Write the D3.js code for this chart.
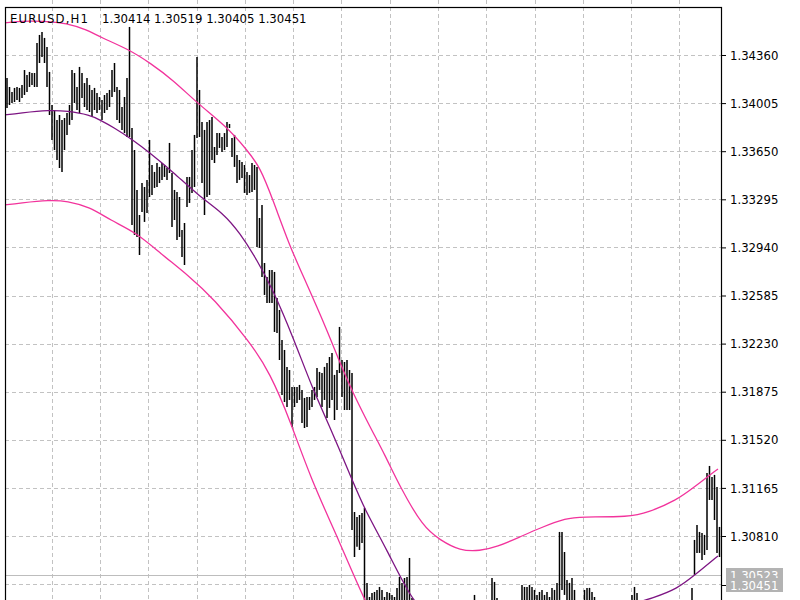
<!DOCTYPE html>
<html><head><meta charset="utf-8">
<script src="https://cdn.jsdelivr.net/npm/d3@7"></script>
<style>body{margin:0;background:#fff}svg{display:block}</style>
</head><body><svg id="c" width="800" height="600"></svg>
<script>
const symbolTitle = "EURUSD,H1";
const lastOHLC = ["1.30414","1.30519","1.30405","1.30451"];
const priceTicks = [1.34360,1.34005,1.33650,1.33295,1.32940,1.32585,1.32230,1.31875,1.31520,1.31165,1.30810];
const gridPrices = [1.34715,1.34360,1.34005,1.33650,1.33295,1.32940,1.32585,1.32230,1.31875,1.31520,1.31165,1.30810,1.30455];
const gridBars = [18,37.2,56.4,76,95.2,114.4,133.6,153.2,172.4,191.6,211.2,230.4,249.6,268.8];
const askPrice = 1.30523;
const bidPrice = 1.30451;

const highs = [
1.34190,1.34124,1.34087,1.34117,1.34124,1.34117,1.34139,1.34249,1.34213,1.34235,
1.34227,1.34227,1.34449,1.34508,1.34530,1.34486,1.34419,1.34235,1.33991,1.33954,
1.33880,1.33917,1.33880,1.33895,1.33932,1.33991,1.34249,1.34227,1.34124,1.34272,
1.34227,1.34153,1.34190,1.34139,1.34102,1.34117,1.34080,1.34050,1.34028,1.34065,
1.34080,1.34102,1.34249,1.34301,1.34124,1.34102,1.33976,1.34050,1.34190,1.34567,
1.33821,1.33659,1.33364,1.33179,1.33415,1.33386,1.33438,1.33733,1.33548,1.33497,
1.33563,1.33534,1.33563,1.33548,1.33526,1.33711,1.33489,1.33364,1.33349,1.33312,
1.33069,1.33120,1.33460,1.33460,1.33659,1.33770,1.34345,1.34102,1.33866,1.33807,
1.33866,1.33880,1.33903,1.33681,1.33784,1.33784,1.33755,1.33784,1.33866,1.33851,
1.33748,1.33770,1.33622,1.33585,1.33570,1.33548,1.33497,1.33474,1.33563,1.33548,
1.33534,1.33157,1.33253,1.32825,1.32722,1.32773,1.32773,1.32759,1.32567,1.32478,
1.32257,1.32183,1.32058,1.32035,1.31910,1.31910,1.31910,1.31925,1.31888,1.31829,
1.31836,1.31836,1.31888,1.31910,1.32050,1.32021,1.32013,1.32058,1.32087,1.32131,
1.32161,1.31999,1.32035,1.32353,1.32109,1.32094,1.32109,1.32035,1.32013,1.30987,
1.30951,1.30965,1.30980,1.31017,1.30464,1.30360,1.30390,1.30397,1.30412,1.30434,
1.30412,1.30360,1.30397,1.30390,1.30375,1.30360,1.30427,1.30508,1.30464,1.30500,
1.30508,1.30648,1.30353,1.30290,1.30270,1.30240,1.30260,1.30220,1.30180,1.30210,
1.30250,1.30230,1.30200,1.30170,1.30150,1.30190,1.30220,1.30260,1.30280,1.30250,
1.30230,1.30270,1.30300,1.30290,1.30260,1.30310,1.30320,1.30375,1.30310,1.30280,
1.30300,1.30320,1.30310,1.30330,1.30500,1.30471,1.30353,1.30320,1.30300,1.30280,
1.30260,1.30290,1.30310,1.30280,1.30300,1.30320,1.30449,1.30434,1.30434,1.30449,
1.30434,1.30412,1.30375,1.30397,1.30412,1.30375,1.30397,1.30360,1.30427,1.30412,
1.30464,1.30840,1.30840,1.30692,1.30486,1.30464,1.30500,1.30412,1.30320,1.30310,
1.30320,1.30412,1.30427,1.30427,1.30397,1.30360,1.30320,1.30300,1.30280,1.30310,
1.30320,1.30300,1.30270,1.30290,1.30310,1.30320,1.30338,1.30300,1.30280,1.30310,
1.30375,1.30434,1.30390,1.30320,1.30300,1.30270,1.30250,1.30280,1.30300,1.30320,
1.30290,1.30260,1.30240,1.30270,1.30300,1.30320,1.30310,1.30280,1.30300,1.30320,
1.30310,1.30320,1.30320,1.30310,1.30427,1.30781,1.30892,1.30840,1.30833,1.30818,
1.31275,1.31327,1.31246,1.31261,1.31172,1.30877];

const lows = [
1.33969,1.33991,1.34006,1.34013,1.34028,1.34013,1.34043,1.34065,1.34087,1.34124,
1.34139,1.34124,1.34124,1.34301,1.34345,1.34301,1.34124,1.33917,1.33733,1.33659,
1.33585,1.33526,1.33497,1.33659,1.33770,1.33844,1.33880,1.34006,1.33954,1.33932,
1.34043,1.33976,1.33954,1.33939,1.33903,1.33954,1.33932,1.33954,1.33880,1.33932,
1.33954,1.33976,1.34050,1.34087,1.33880,1.33858,1.33807,1.33784,1.33755,1.33755,
1.33106,1.33032,1.33017,1.32884,1.33201,1.33128,1.33194,1.33312,1.33327,1.33379,
1.33386,1.33415,1.33438,1.33460,1.33438,1.33489,1.33091,1.33142,1.32995,1.33017,
1.32869,1.32810,1.33238,1.33268,1.33342,1.33386,1.33748,1.33755,1.33415,1.33179,
1.33312,1.33327,1.33585,1.33563,1.33622,1.33674,1.33644,1.33659,1.33681,1.33821,
1.33607,1.33534,1.33415,1.33438,1.33452,1.33342,1.33327,1.33342,1.33349,1.33364,
1.32943,1.32936,1.32722,1.32589,1.32530,1.32530,1.32530,1.32316,1.32309,1.32109,
1.31851,1.31799,1.31762,1.31814,1.31615,1.31762,1.31792,1.31814,1.31644,1.31607,
1.31615,1.31740,1.31762,1.31814,1.31836,1.31888,1.31762,1.31814,1.31681,1.31755,
1.31814,1.31666,1.31740,1.32013,1.31836,1.31740,1.31740,1.31740,1.30855,1.30655,
1.30730,1.30707,1.30759,1.30338,1.30249,1.30190,1.30227,1.30249,1.30264,1.30279,
1.30264,1.30227,1.30249,1.30249,1.30227,1.30227,1.30264,1.30301,1.30301,1.30301,
1.30301,1.30338,1.30190,1.30150,1.30120,1.30080,1.30110,1.30050,1.30020,1.30060,
1.30090,1.30100,1.30070,1.30030,1.29990,1.30040,1.30080,1.30120,1.30140,1.30130,
1.30100,1.30150,1.30170,1.30160,1.30130,1.30180,1.30190,1.30190,1.30180,1.30150,
1.30170,1.30200,1.30190,1.30210,1.30264,1.30249,1.30190,1.30180,1.30160,1.30140,
1.30120,1.30150,1.30170,1.30150,1.30180,1.30200,1.30264,1.30249,1.30264,1.30264,
1.30249,1.30249,1.30227,1.30235,1.30249,1.30227,1.30235,1.30227,1.30264,1.30249,
1.30264,1.30338,1.30412,1.30375,1.30301,1.30286,1.30301,1.30264,1.30200,1.30180,
1.30210,1.30249,1.30264,1.30264,1.30249,1.30227,1.30190,1.30170,1.30150,1.30180,
1.30200,1.30170,1.30140,1.30160,1.30180,1.30200,1.30227,1.30170,1.30150,1.30180,
1.30249,1.30264,1.30249,1.30190,1.30160,1.30130,1.30110,1.30140,1.30170,1.30190,
1.30150,1.30120,1.30100,1.30130,1.30160,1.30180,1.30170,1.30150,1.30170,1.30190,
1.30180,1.30200,1.30200,1.30190,1.30154,1.30523,1.30685,1.30685,1.30633,1.30670,
1.30707,1.31076,1.31076,1.30928,1.30685,1.30655];

// Envelopes (bar position, price)
const upperAt = [-1,5.2,14.4,24,32,37.2,49.2,57.2,66.4,76,88,96,101.2,106.4,113.2,119.2,128,134,138.4,145.2,151.2,157.2,166.4,173.2,181.2,189.2,196,205.2,213.2,224,229.2,249.2,256,268,274.4,284.4];
const upperVals = [1.34596,1.34611,1.34611,1.34596,1.34545,1.34493,1.34397,1.34301,1.34176,1.34006,1.33829,1.33659,1.33534,1.33290,1.32943,1.32700,1.32331,1.32050,1.31866,1.31615,1.31408,1.31172,1.30877,1.30781,1.30700,1.30700,1.30729,1.30803,1.30870,1.30943,1.30951,1.30951,1.30980,1.31076,1.31165,1.31305];
const midAt = [-1,5.2,17.2,24,33.2,37.2,42.4,50.4,57.2,66.4,77.2,86.4,93.2,100,106.4,114.4,122.4,129.2,138.4,143.2,152,161.2,169.2,181.2,189.2,196,205.2,213.2,224,237.2,249.2,258.4,268,275.2,284.4];
const midVals = [1.33917,1.33932,1.33954,1.33947,1.33917,1.33880,1.33829,1.33733,1.33637,1.33497,1.33312,1.33194,1.33046,1.32847,1.32626,1.32279,1.31888,1.31615,1.31209,1.31002,1.30707,1.30360,1.30190,1.30050,1.30050,1.30080,1.30154,1.30220,1.30294,1.30301,1.30301,1.30353,1.30419,1.30523,1.30663];
const lowerAt = [-1,5.2,17.2,24,33.2,41.2,52,61.2,73.2,82.4,97.2,105.2,113.2,121.2,133.2,142.4,149.2];
const lowerVals = [1.33253,1.33268,1.33290,1.33283,1.33238,1.33142,1.33046,1.32899,1.32722,1.32567,1.32242,1.32013,1.31666,1.31246,1.30759,1.30360,1.30117];

const FONT = "'DejaVu Sans Condensed', 'Liberation Sans', Arial, sans-serif";
const plot = {left:5, top:7, right:721, bottom:700};
const svg = d3.select("#c");
svg.append("rect").attr("width",800).attr("height",600).attr("fill","#fff");

const x = d3.scaleLinear().domain([0, highs.length-1]).range([7, 719.5]);
const y = d3.scaleLinear().domain([1.34360, 1.30810]).range([55, 536]);

svg.append("defs").append("clipPath").attr("id","clip")
  .append("rect").attr("x",plot.left).attr("y",plot.top).attr("width",plot.right-plot.left).attr("height",600);

// grid
const grid = svg.append("g").attr("stroke","#c2c2c2").attr("stroke-dasharray","4,3").attr("shape-rendering","crispEdges");
grid.selectAll("line.gv").data(gridBars).join("line").attr("class","gv")
  .attr("x1",d=>Math.round(x(d))+0.5).attr("x2",d=>Math.round(x(d))+0.5)
  .attr("y1",0).attr("y2",600);
grid.selectAll("line.gh").data(gridPrices).join("line").attr("class","gh")
  .attr("x1",plot.left).attr("x2",plot.right)
  .attr("y1",d=>Math.round(y(d))+0.5).attr("y2",d=>Math.round(y(d))+0.5);

// ask line
svg.append("line").attr("x1",plot.left).attr("x2",plot.right)
  .attr("y1",Math.round(y(askPrice))+0.5).attr("y2",Math.round(y(askPrice))+0.5)
  .attr("stroke","#bdbdbd").attr("shape-rendering","crispEdges");

const g = svg.append("g").attr("clip-path","url(#clip)");

// bars
g.append("g").selectAll("line").data(highs.map((h,i)=>({i,h,l:lows[i]}))).join("line")
  .attr("x1",d=>x(d.i)).attr("x2",d=>x(d.i))
  .attr("y1",d=>y(d.h)).attr("y2",d=>y(d.l))
  .attr("stroke","#000").attr("stroke-width",1.5);

// envelopes
const line = d3.line().x(d=>x(d[0])).y(d=>y(d[1])).curve(d3.curveBasis);
const env = [
  [d3.zip(upperAt, upperVals), "#f2339c"],
  [d3.zip(midAt, midVals), "#7d1583"],
  [d3.zip(lowerAt, lowerVals), "#f2339c"]
];
env.forEach(([pts,col])=>{
  g.append("path").datum(pts).attr("d",line).attr("fill","none")
   .attr("stroke",col).attr("stroke-width",1.3);
});

// frame
svg.append("rect").attr("x",plot.left+0.5).attr("y",plot.top+0.5)
  .attr("width",plot.right-plot.left).attr("height",plot.bottom)
  .attr("fill","none").attr("stroke","#000").attr("stroke-width",1.2);

// price axis
const ax = svg.append("g").attr("transform",`translate(${plot.right},0)`)
  .call(d3.axisRight(y).tickValues(priceTicks).tickFormat(d3.format(".5f")).tickSize(5).tickPadding(4));
ax.select(".domain").remove();
ax.attr("font-family",FONT).attr("font-size",13);
ax.selectAll("line").attr("stroke","#000");
ax.selectAll("text").attr("fill","#000");

// ask / bid tags (bid tag drawn over the ask tag, as in the terminal)
[askPrice, bidPrice].forEach(p=>{
  const yy = Math.round(y(p));
  svg.append("rect").attr("x",726).attr("y",yy-7).attr("width",57).attr("height",14).attr("fill","#b3b3b3");
  svg.append("text").attr("x",730).attr("y",yy+5).attr("font-family",FONT).attr("font-size",13)
    .attr("fill","#fff").text(d3.format(".5f")(p));
});
svg.append("line").attr("x1",plot.right).attr("x2",plot.right+5)
  .attr("y1",Math.round(y(bidPrice))+0.5).attr("y2",Math.round(y(bidPrice))+0.5).attr("stroke","#000");

// title
const title = svg.append("text").attr("y",23).attr("font-family",FONT).attr("font-size",13).attr("fill","#000");
title.append("tspan").attr("x",10).attr("letter-spacing",1.1).text(symbolTitle);
title.append("tspan").attr("x",102).attr("xml:space","preserve").text(lastOHLC.join(" "));
</script></body></html>
